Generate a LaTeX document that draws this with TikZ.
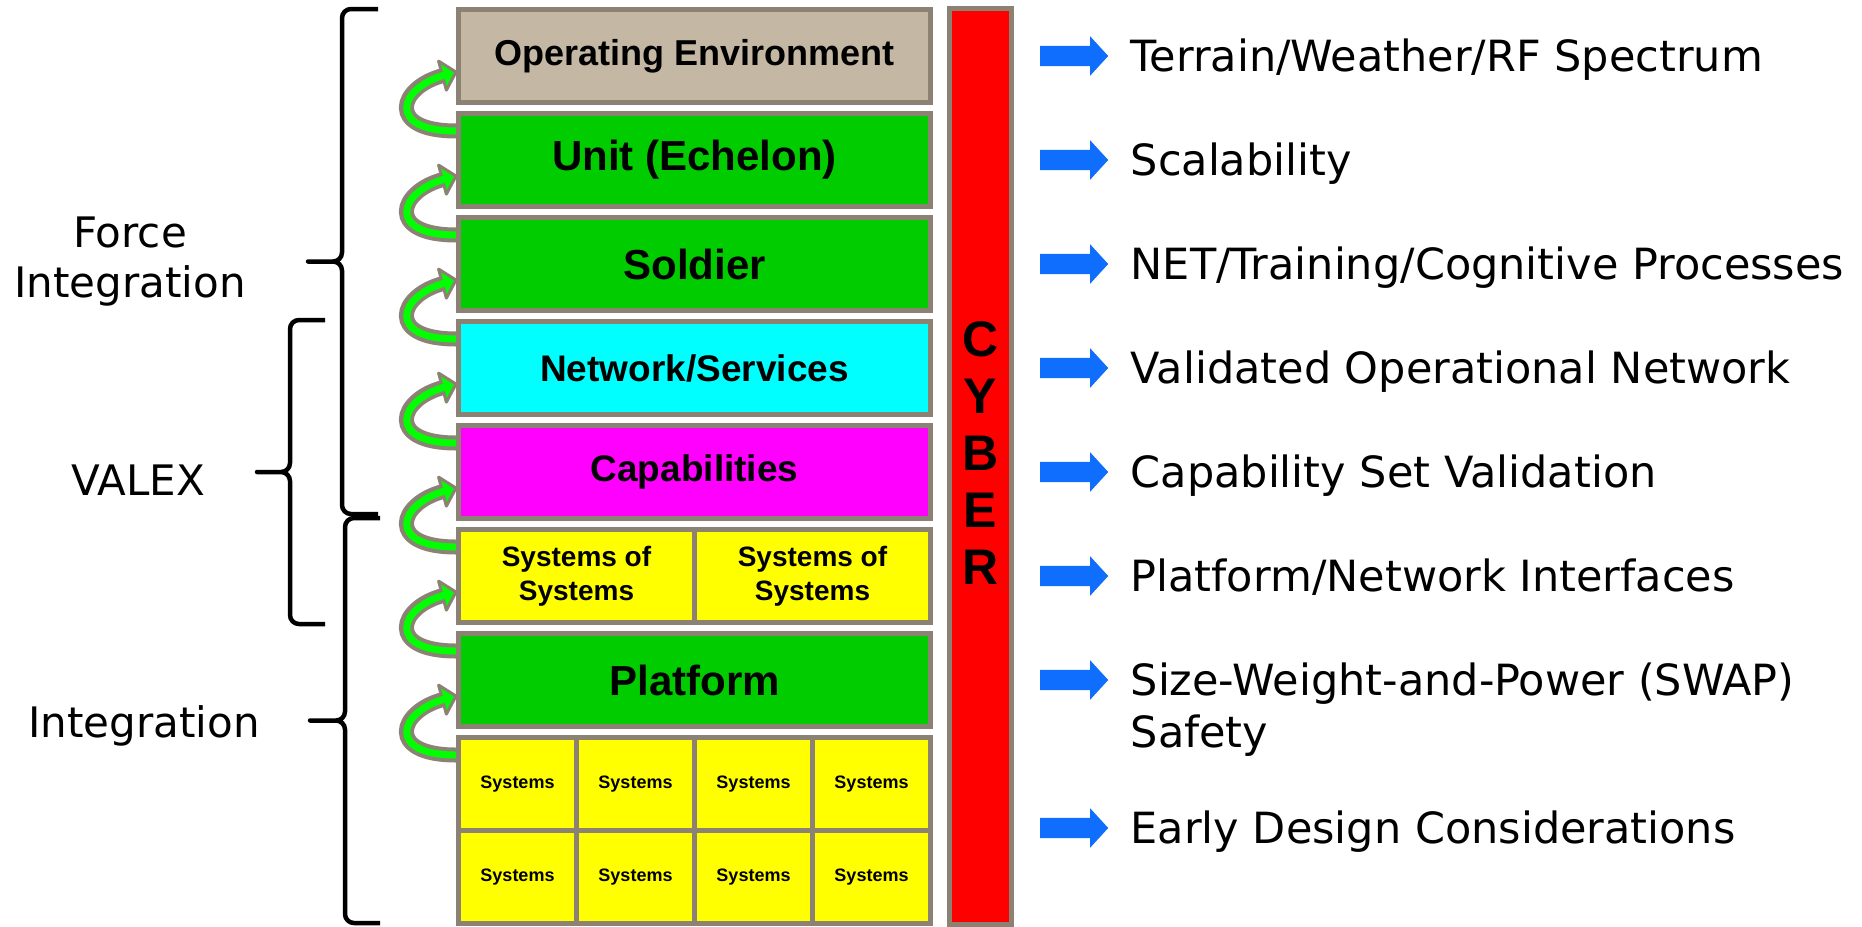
\documentclass[tikz,border=0pt]{standalone}
\usepackage{fontspec}
\usetikzlibrary{positioning,calc,shapes.arrows}
\newfontfamily\boxfont{Liberation Sans}
\newfontfamily\notefont{DejaVu Sans}
\definecolor{edgegray}{RGB}{140,130,116}
\definecolor{envtan}{RGB}{196,184,164}
\definecolor{layergreen}{RGB}{0,204,0}
\definecolor{netcyan}{RGB}{0,255,255}
\definecolor{capmagenta}{RGB}{255,0,255}
\definecolor{sysyellow}{RGB}{255,255,0}
\definecolor{cyberred}{RGB}{255,0,0}
\definecolor{loopgreen}{RGB}{0,255,0}
\definecolor{notearrow}{RGB}{16,110,255}
\tikzset{
  layer/.style={draw=edgegray, line width=5pt, minimum width=472pt, minimum height=93pt, inner sep=0pt, align=center, font=\boxfont\bfseries\fontsize{42}{50}\selectfont},
  cell/.style={layer, fill=sysyellow, minimum width=118pt, font=\boxfont\bfseries\fontsize{18}{22}\selectfont},
  sidelabel/.style={font=\notefont\fontsize{42}{50}\selectfont, align=center, inner sep=0pt},
  note/.style={font=\notefont\fontsize{43}{52}\selectfont, inner sep=0pt, text height=30pt, text depth=0pt},
  pointer/.style={single arrow, fill=notearrow, minimum height=68pt, inner xsep=0pt, inner ysep=10pt, single arrow head extend=9.5pt, single arrow tip angle=95, single arrow head indent=0pt},
  bracket/.style={line width=4.5pt, line join=round},
  loopback/.style={draw=edgegray, line width=15pt},
  loopfill/.style={draw=loopgreen, line width=7pt},
  loophead/.style={fill=loopgreen, draw=edgegray, line width=3pt, line join=round}
}
\begin{document}
\begin{tikzpicture}[x=1pt, y=1pt, node distance=6pt]
\useasboundingbox (0,0) rectangle (1862,-926);
\fill[white] (0,0) rectangle (1862,-926);

% the stack of layers
\node[layer, fill=envtan, font=\boxfont\bfseries\fontsize{36}{42}\selectfont] (env) at (694.5,-56) {Operating Environment};
\node[layer, fill=layergreen, below=of env] (unit) {Unit (Echelon)};
\node[layer, fill=layergreen, below=of unit] (soldier) {Soldier};
\node[layer, fill=netcyan, below=of soldier, font=\boxfont\bfseries\fontsize{37}{44}\selectfont] (net) {Network/Services};
\node[layer, fill=capmagenta, below=of net, font=\boxfont\bfseries\fontsize{37}{44}\selectfont] (caps) {Capabilities};
\node[cell, minimum width=236pt, below right=6pt and 0pt of caps.south west, font=\boxfont\bfseries\fontsize{28}{34}\selectfont] (sosa) {Systems of\\Systems};
\node[cell, minimum width=236pt, right=-5pt of sosa, font=\boxfont\bfseries\fontsize{28}{34}\selectfont] (sosb) {Systems of\\Systems};
\node[layer, fill=layergreen, below right=6pt and 0pt of sosa.south west] (plat) {Platform};
\node[cell, below right=6pt and 0pt of plat.south west] (sys1) {Systems};
\foreach \i/\j in {2/1,3/2,4/3}
  \node[cell, right=-5pt of sys\j] (sys\i) {Systems};
\node[cell, below=-5pt of sys1] (sys5) {Systems};
\foreach \i/\j in {6/5,7/6,8/7}
  \node[cell, right=-5pt of sys\j] (sys\i) {Systems};

% cyber bar
\node[draw=edgegray, line width=5pt, fill=cyberred, minimum width=62pt, minimum height=916pt, inner sep=0pt] (cyber) at (980.5,-466.5) {};
\node[font=\boxfont\bfseries\fontsize{50}{57}\selectfont, align=center, inner sep=0pt] (cybertext) at ([yshift=13pt]cyber.center) {C\\Y\\B\\E\\R};

% curved arrows between layers
\foreach \lo/\up in {unit/env, soldier/unit, net/soldier, caps/net, sosa/caps, plat/sosa, sys1/plat} {
  \coordinate (tl) at ($(\lo.north west)+(0,-20)$);
  \coordinate (hd) at ($(\up.south west)+(0,33)$);
  \coordinate (nk) at ($(hd)+(-13,-3.5)$);
  \draw[loopback] (tl) .. controls +(-70,0) and +(-45,-12) .. (nk);
  \draw[loophead, shift={(hd)}, rotate=15] (0,0) -- (-14,15) -- (-14,-15) -- cycle;
  \draw[loopfill, shorten >=-3pt] (tl) .. controls +(-70,0) and +(-45,-12) .. (nk);
}

% notes on the right
\foreach \lay/\txt [count=\n] in {env/{Terrain/Weather/RF Spectrum}, unit/Scalability, soldier/{NET/Training/Cognitive Processes}, net/Validated Operational Network, caps/Capability Set Validation, sosa/{Platform/Network Interfaces}, plat/{\begin{tabular}[t]{@{}l@{}}Size-Weight-and-Power (SWAP)\\Safety\end{tabular}}, sys5.north/Early Design Considerations} {
  \coordinate (p\n) at (cyber.east |- \lay);
  \node[pointer, right=26pt of p\n] (arr\n) {};
  \node[note, right=22pt of arr\n] (note\n) {\txt};
}

% braces on the left
\foreach \xe/\xs/\xt/\ya/\yb in {378/342/308/9/514, 325/290/257/320/624, 380/345/310/518/923} {
  \pgfmathsetmacro\m{(\ya+\yb)/2}
  \draw[bracket] (\xe,-\ya) -- (\xs+9,-\ya) to[out=180,in=90] (\xs,-\ya-9) -- (\xs,-\m+9) to[out=-90,in=0] (\xs-9,-\m) -- (\xt,-\m) -- (\xs-9,-\m) to[out=0,in=90] (\xs,-\m-9) -- (\xs,-\yb+9) to[out=-90,in=180] (\xs+9,-\yb) -- (\xe,-\yb);
}
\node[sidelabel] (force) at (130,-262) {Force\\Integration};
\node[sidelabel] (valex) at (138,-480) {VALEX};
\node[sidelabel] (integ) at (144,-726) {Integration};
\end{tikzpicture}
\end{document}
